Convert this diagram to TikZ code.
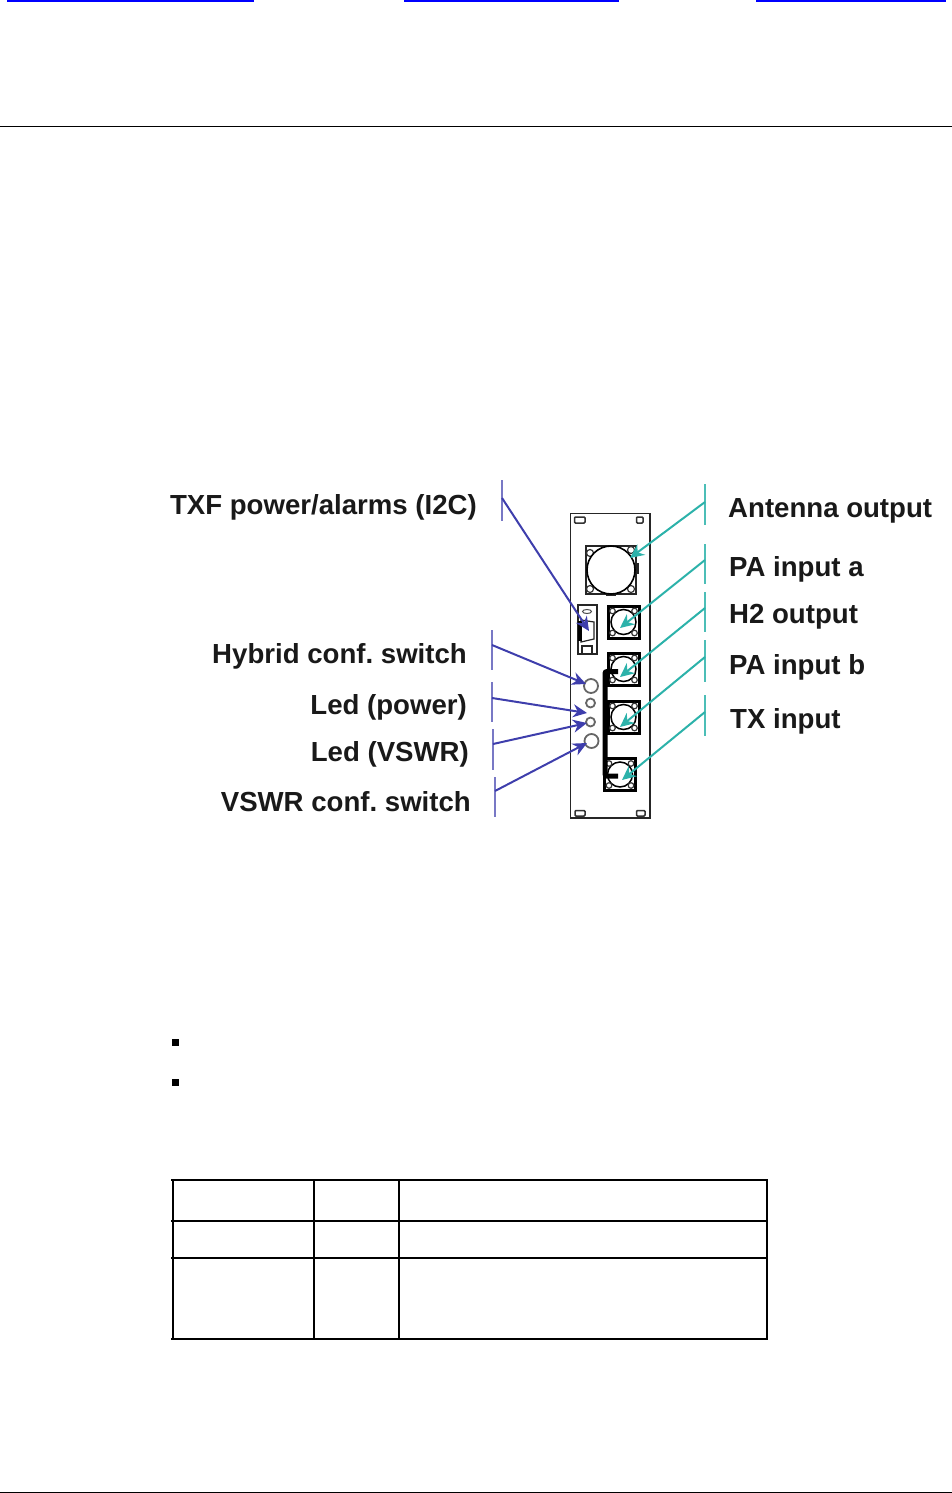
\documentclass[tikz,border=0pt]{standalone}
\usepackage{fontspec}
\setmainfont{Liberation Sans}
\usepackage{tikz}
\usetikzlibrary{arrows.meta,calc,positioning}
\definecolor{bluelead}{RGB}{62,62,172}
\definecolor{tealead}{RGB}{44,178,170}
\definecolor{linkblue}{RGB}{0,0,255}
\tikzset{lab/.style={inner sep=0pt, font=\bfseries\fontsize{27.6}{29}\selectfont, text=black!90}}
\tikzset{bluebar/.style={draw=bluelead!70, line width=2.4pt}}
\tikzset{tealbar/.style={draw=tealead!85, line width=2.4pt}}
\tikzset{bluearrow/.style={draw=bluelead, line width=2pt, -{Stealth[length=14pt,width=13pt]}}}
\tikzset{tealarrow/.style={draw=tealead, line width=2pt, -{Stealth[length=14pt,width=13pt]}}}
\tikzset{hole/.style={draw=black!80, line width=1.5pt, rounded corners=1pt}}
\tikzset{led/.style={draw=black!60, circle, line width=1.8pt, inner sep=0pt, fill=white}}
\tikzset{rowline/.style={draw=black, line width=2pt}}
\tikzset{port/.pic={
\fill[black] (-17,-17.5) rectangle (17,17.5);
\fill[white] (-14,-14.5) rectangle (14,14.5);
\draw[black, line width=1.5pt, fill=white] (0,0) circle (12.5);
\draw[black!80, line width=1.2pt, fill=white] (-11,-11) circle (2.8);
\draw[black!80, line width=1.2pt, fill=white] (11,-11) circle (2.8);
\draw[black!80, line width=1.2pt, fill=white] (-11,11) circle (2.8);
\draw[black!80, line width=1.2pt, fill=white] (11,11) circle (2.8);
}}

\begin{document}
\begin{tikzpicture}[x=1pt, y=-1pt]
\useasboundingbox (0,0) rectangle (952,1493);

% page furniture
\fill[linkblue] (7,0) rectangle (254,2);
\fill[linkblue] (404,0) rectangle (619,2);
\fill[linkblue] (756,0) rectangle (946,2);
\draw[black, line width=1pt] (0,126.5) -- (952,126.5);
\draw[black, line width=1pt] (0,1492.5) -- (952,1492.5);

% panel
\draw[black!85, line width=1.8pt] (570.5,513.5) rectangle (650,818);
\draw[hole] (574.5,517) rectangle (585,523);
\draw[hole] (636.5,517) rectangle (643,523);
\draw[hole] (575,810.5) rectangle (585,816);
\draw[hole] (636.5,810.5) rectangle (645,816);

% antenna connector
\draw[black!85, line width=1.8pt] (586,546) rectangle (636,594);
\fill[black!85] (604,545) rectangle (618,548);
\fill[black!85] (636,563) rectangle (638.5,574);
\fill[black!85] (606,593) rectangle (616,596);
\draw[black!80, line width=1.2pt] (590,553) circle (3.5);
\draw[black!80, line width=1.2pt] (631,550) circle (3.5);
\draw[black!80, line width=1.2pt] (590,589) circle (3.5);
\draw[black!80, line width=1.2pt] (631,589) circle (3.5);
\node[draw=black, circle, line width=1.6pt, fill=white, minimum size=48pt, inner sep=0pt] (antport) at (611,570) {};

% small connectors
\pic (pa) at (623.5,622) {port};
\pic (htwo) at (623.5,669) {port};
\pic (pb) at (623.5,717) {port};
\pic (tx) at (620,774.5) {port};

% cable
\draw[black, line width=5pt, rounded corners=2pt] (618,671.5) -- (605,671.5) -- (605,776) -- (618,776);

% sub-d
\draw[black!85, line width=1.6pt] (578,605) rectangle (597,654);
\draw[black!70, line width=1pt] (587,611.5) ellipse (4.5 and 2);
\draw[black!85, line width=1.2pt] (581,620) -- (594,622) -- (594,639) -- (581,642) -- cycle;
\fill[black] (578,621) rectangle (581.5,641);
\draw[black!85, line width=1.4pt] (582,653) -- (582,646) -- (592,646) -- (592,653);

% leds
\node[led, minimum size=14pt] (hybled) at (591,686) {};
\node[led, minimum size=9pt] (pwrled) at (590.5,703) {};
\node[led, minimum size=9pt] (vswled) at (590.5,722) {};
\node[led, minimum size=14pt] (swled) at (591.5,741) {};

% labels
\node[lab, anchor=east] (ltxf) at (477,507) {TXF power/alarms (I2C)};
\node[lab, anchor=east] (lhyb) at (467,656) {Hybrid conf.\ switch};
\node[lab, anchor=east] (lpwr) at (467,707) {Led (power)};
\node[lab, anchor=east] (lvsw) at (469,754) {Led (VSWR)};
\node[lab, anchor=east] (lsw) at (471,802) {VSWR conf.\ switch};
\node[lab, anchor=west] (lant) at (728,511) {Antenna output};
\node[lab, anchor=west] (lpa) at (729,569) {PA input a};
\node[lab, anchor=west] (lh2) at (729,617) {H2 output};
\node[lab, anchor=west] (lpb) at (729,667) {PA input b};
\node[lab, anchor=west] (ltx) at (730,721) {TX input};

% leaders
\coordinate (btxfa) at (502,480); \coordinate (btxfb) at (502,521); \coordinate (jtxf) at (502,498); \coordinate (ttxf) at (589,631);
\coordinate (bhyba) at (492,630); \coordinate (bhybb) at (492,670); \coordinate (jhyb) at (492,645); \coordinate (thyb) at (586,684);
\coordinate (bpwra) at (492,682); \coordinate (bpwrb) at (492,722); \coordinate (jpwr) at (492,698); \coordinate (tpwr) at (587,713);
\coordinate (bvswa) at (493,729); \coordinate (bvswb) at (493,770); \coordinate (jvsw) at (493,744); \coordinate (tvsw) at (587,723);
\coordinate (bswa) at (495,777); \coordinate (bswb) at (495,817); \coordinate (jsw) at (495,791); \coordinate (tsw) at (587,743);
\coordinate (bana) at (705,484); \coordinate (banb) at (705,525); \coordinate (jan) at (705,502); \coordinate (tan) at (630,558);
\coordinate (bpaa) at (705,544); \coordinate (bpab) at (705,584); \coordinate (jpa) at (705,560); \coordinate (tpa) at (620,628);
\coordinate (bhaa) at (705,592); \coordinate (bhab) at (705,632); \coordinate (jha) at (705,608); \coordinate (tha) at (620,677);
\coordinate (bpba) at (705,640); \coordinate (bpbb) at (705,682); \coordinate (jpb) at (705,657); \coordinate (tpb) at (620,727);
\coordinate (btxa) at (705,695); \coordinate (btxb) at (705,736); \coordinate (jtx) at (705,712); \coordinate (ttx) at (622,780);

\draw[bluebar] (btxfa) -- (btxfb);
\draw[bluebar] (bhyba) -- (bhybb);
\draw[bluebar] (bpwra) -- (bpwrb);
\draw[bluebar] (bvswa) -- (bvswb);
\draw[bluebar] (bswa) -- (bswb);
\draw[tealbar] (bana) -- (banb);
\draw[tealbar] (bpaa) -- (bpab);
\draw[tealbar] (bhaa) -- (bhab);
\draw[tealbar] (bpba) -- (bpbb);
\draw[tealbar] (btxa) -- (btxb);

\draw[bluearrow] (jtxf) -- (ttxf);
\draw[bluearrow] (jhyb) -- (thyb);
\draw[bluearrow] (jpwr) -- (tpwr);
\draw[bluearrow] (jvsw) -- (tvsw);
\draw[bluearrow] (jsw) -- (tsw);
\draw[tealarrow] (jan) -- (tan);
\draw[tealarrow] (jpa) -- (tpa);
\draw[tealarrow] (jha) -- (tha);
\draw[tealarrow] (jpb) -- (tpb);
\draw[tealarrow] (jtx) -- (ttx);

% bullets
\fill[black] (172,1039) rectangle (178.5,1046);
\fill[black] (172,1078.5) rectangle (178.5,1086);

% table
\draw[black, line width=2.6pt] (171,1180) -- (768,1180);
\draw[black, line width=2.6pt] (171,1221) -- (768,1221);
\draw[rowline] (171,1258) -- (768,1258);
\draw[rowline] (171,1339) -- (768,1339);
\draw[rowline] (172.5,1180) -- (172.5,1339);
\draw[rowline] (314,1180) -- (314,1339);
\draw[rowline] (399,1180) -- (399,1339);
\draw[rowline] (767,1180) -- (767,1339);
\end{tikzpicture}
\end{document}
